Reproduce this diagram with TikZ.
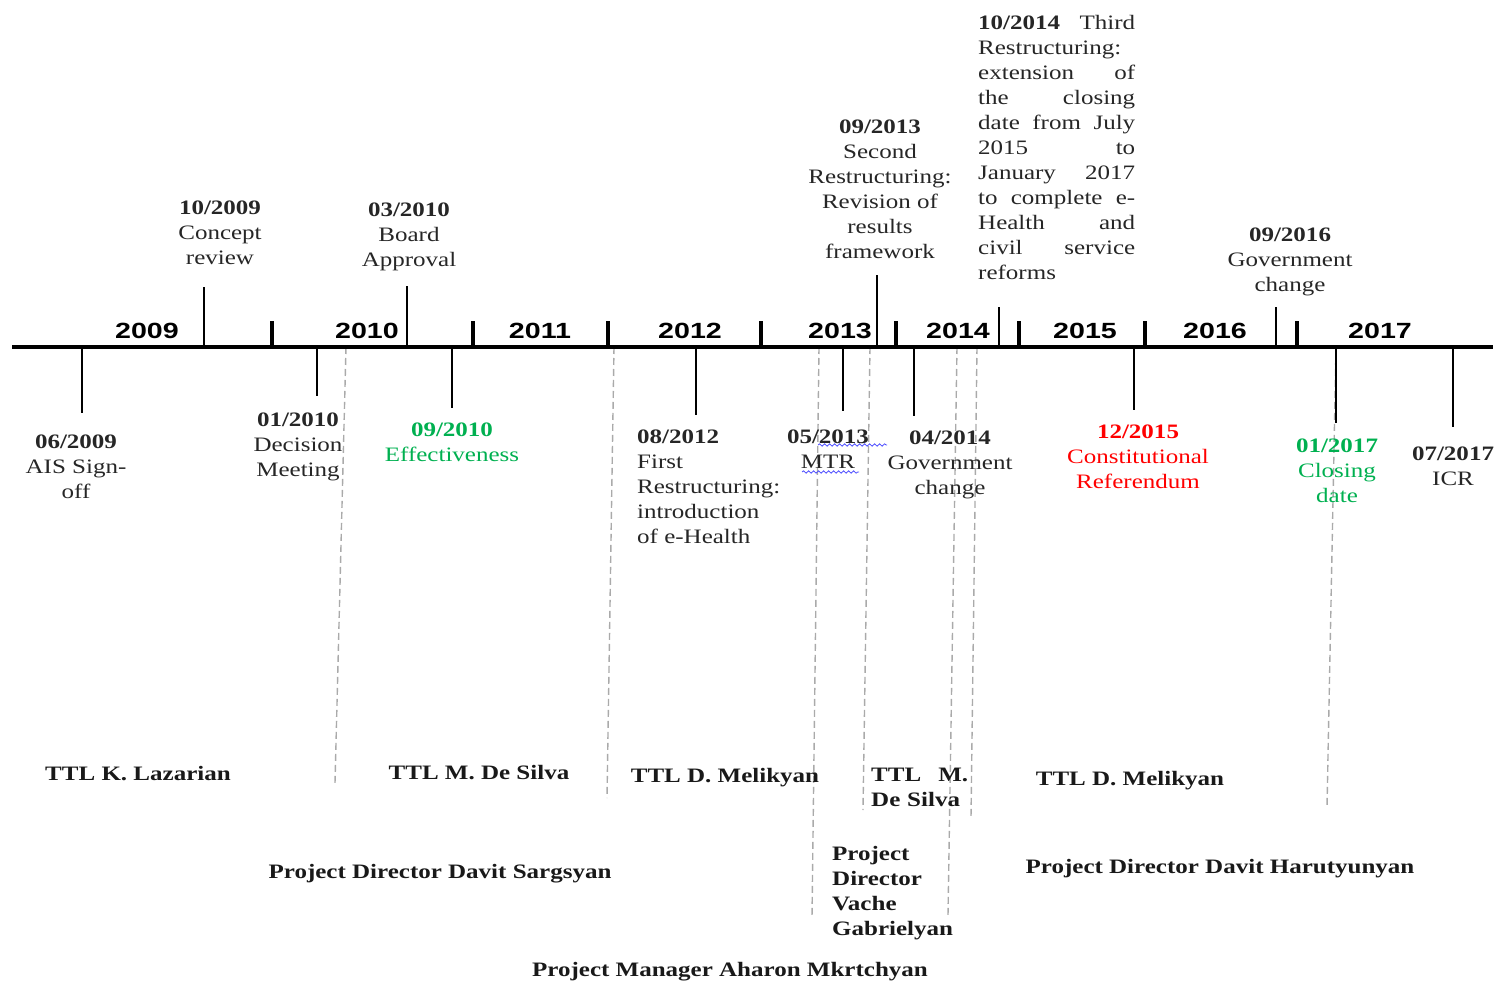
\documentclass[tikz,border=0pt]{standalone}
\usepackage{fontspec}
\setmainfont{Liberation Serif}[FakeStretch=1.22]
\newfontfamily\yearfont{Liberation Sans}[FakeStretch=1.3]
\usepackage{xcolor}
\usetikzlibrary{decorations.pathmorphing}

\definecolor{effgreen}{RGB}{0,176,80}
\definecolor{refred}{RGB}{255,0,0}
\definecolor{phasegray}{RGB}{170,170,170}
\newcommand{\evfont}{\fontsize{20.5}{25}\selectfont}

\tikzset{
  axisline/.style={line width=3.5pt},
  yeartick/.style={line width=3.5pt},
  stem/.style={line width=1.8pt},
  phase/.style={phasegray, line width=1.4pt, dash pattern=on 7pt off 4pt},
  event/.style={inner sep=0pt, anchor=north, align=center, font=\evfont, text=black!85},
  staff/.style={inner sep=0pt, anchor=north, align=left, font=\evfont\bfseries, text=black!90},
  yearlabel/.style={inner sep=0pt, anchor=base, font=\yearfont\fontsize{22}{24}\selectfont\bfseries},
  spell/.style={blue!70, line width=0.8pt, decorate, decoration={snake, amplitude=1.2pt, segment length=5pt}},
}

\begin{document}
\begin{tikzpicture}[x=1pt, y=-1pt]
    \useasboundingbox (0,0) rectangle (1499,981);

    % Phase boundaries
    \foreach \n/\xa/\xb/\y in {1/346/335/783, 2/614/607/798, 3/819/812/917, 4/870/863/810, 5/957/948/915, 6/977/971/817, 7/1336/1327/807} {
        \coordinate (pa\n) at (\xa,347);
        \coordinate (pb\n) at (\xb,\y);
        \draw[phase] (pa\n) -- (pb\n);
    }

    % Time axis
    \coordinate (axisL) at (12,347);
    \coordinate (axisR) at (1493,347);
    \draw[axisline] (axisL) -- (axisR);

    % Year boundaries and labels
    \foreach \x in {272,473,608,761,896,1019,1145,1297}
        \draw[yeartick] (\x,347) -- (\x,321);
    \foreach \x/\yr in {147/2009, 367/2010, 540/2011, 690/2012, 840/2013, 958/2014, 1085/2015, 1215/2016, 1380/2017}
        \node[yearlabel] (y\yr) at (\x,339) {\yr};

    % Event stems
    \foreach \n/\x/\y in {1009/204/287, 0310/407/286, 0913/877/275, 1014/999/307, 0916/1276/307,
        0609/82/413, 0110/317/396, 0910/452/408, 0812/696/415, 0513/843/411, 0414/914/416, 1215/1134/410, 0117/1336/423, 0717/1453/427} {
        \coordinate (s\n) at (\x,347);
        \coordinate (t\n) at (\x,\y);
        \draw[stem] (s\n) -- (t\n);
    }

    % Events above the axis
    \node[event] (ev1009) at (220,201) {\textbf{10/2009}\\Concept\\review};
    \node[event] (ev0310) at (409,203) {\textbf{03/2010}\\Board\\Approval};
    \node[event] (ev0913) at (880,120) {\textbf{09/2013}\\Second\\Restructuring:\\Revision of\\results\\framework};
    \node[event, anchor=north west, align=left, text width=157pt] (ev1014) at (978,15) {\textbf{10/2014}\hfill Third\\Restructuring:\\extension\hfill of\\the\hfill closing\\date\hfill from\hfill July\\2015\hfill to\\January\hfill 2017\\to\hfill complete\hfill e-\\Health\hfill and\\civil\hfill service\\reforms};
    \node[event] (ev0916) at (1290,228) {\textbf{09/2016}\\Government\\change};

    % Events below the axis
    \node[event] (ev0609) at (76,435) {\textbf{06/2009}\\AIS Sign-\\off};
    \node[event] (ev0110) at (298,413) {\textbf{01/2010}\\Decision\\Meeting};
    \node[event, text=effgreen] (ev0910) at (452,423) {\textbf{09/2010}\\Effectiveness};
    \node[event, anchor=north west, align=left] (ev0812) at (637,430) {\textbf{08/2012}\\First\\Restructuring:\\introduction\\of e-Health};
    \node[event] (ev0513) at (828,430) {\textbf{05/2013}\\MTR};
    \node[event] (ev0414) at (950,431) {\textbf{04/2014}\\Government\\change};
    \node[event, text=refred] (ev1215) at (1138,425) {\textbf{12/2015}\\Constitutional\\Referendum};
    \node[event, text=effgreen] (ev0117) at (1337,439) {\textbf{01/2017}\\Closing\\date};
    \node[event] (ev0717) at (1453,447) {\textbf{07/2017}\\ICR};
    \draw[spell] (ev0513.north) ++(-10,15) -- ++(69,0);
    \draw[spell] (ev0513.north) ++(-26,42) -- ++(57,0);

    % Task team leaders and project staff
    \node[staff] (ttl1) at (138,766) {TTL K. Lazarian};
    \node[staff] (ttl2) at (479,765) {TTL M. De Silva};
    \node[staff] (ttl3) at (725,768) {TTL D. Melikyan};
    \node[staff, anchor=north west, text width=97pt] (ttl4) at (871,768) {TTL\hfill M.\\De Silva};
    \node[staff] (ttl5) at (1130,771) {TTL D. Melikyan};
    \node[staff] (pd1) at (440,864) {Project Director Davit Sargsyan};
    \node[staff, anchor=north west] (pd2) at (832,846) {Project\\Director\\Vache\\Gabrielyan};
    \node[staff] (pd3) at (1220,859) {Project Director Davit Harutyunyan};
    \node[staff] (pm) at (730,962) {Project Manager Aharon Mkrtchyan};
\end{tikzpicture}
\end{document}
